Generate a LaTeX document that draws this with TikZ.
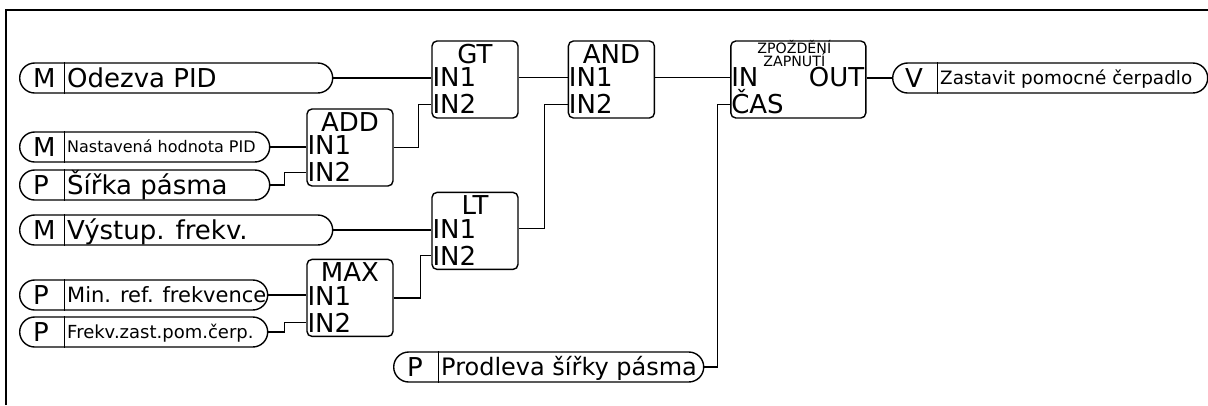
\documentclass[tikz,border=0pt]{standalone}
\usepackage{fontspec}
\setmainfont{DejaVu Sans}
\usetikzlibrary{positioning}

\begin{document}
\begin{tikzpicture}[
  % --- global style ---
  x=1pt, y=-1pt,
  every node/.style={inner sep=0pt, text depth=0pt},
  big/.style={font=\fontsize{26}{26}\selectfont, text height=19pt},
  pill/.style={draw, line width=1.4pt, rounded corners=15pt, minimum height=30pt},
  fbox/.style={draw, line width=1.4pt, rounded corners=5pt,
    minimum width=86pt, minimum height=77pt},
  sep/.style={line width=0.9pt},
  wire/.style={line width=1.5pt},
  frame/.style={line width=2pt},
]
\useasboundingbox (0,0) rectangle (1208,405);

% ====== Frame ======
\draw[frame] (6,405) -- (6,10) -- (1208,10);

% ====== Function blocks ======
\node[fbox] (gt) at (475,79.5) {};
\node[fbox, right=49pt of gt] (and) {};
\node[fbox, right=75pt of and, minimum width=135pt] (ton) {};
\node[fbox, below=73pt of gt] (lt) {};
\node[fbox] (add) at (350,147.5) {};
\node[fbox, below=72pt of add] (max) {};

% --- titles ---
\node[big] (gt-t)  at ([yshift=-13.5pt]gt.north)  {GT};
\node[big] (and-t) at ([yshift=-13.5pt]and.north) {AND};
\node[big] (add-t) at ([yshift=-13.5pt]add.north) {ADD};
\node[big] (lt-t)  at ([yshift=-13.5pt]lt.north)  {LT};
\node[big] (max-t) at ([yshift=-13.5pt]max.north) {MAX};
\node[font=\fontsize{14.2}{14.2}\selectfont, anchor=base]
  (ton-t1) at ([xshift=-4pt,yshift=-13pt]ton.north) {ZPOŽDĚNÍ};
\node[font=\fontsize{14.2}{14.2}\selectfont, anchor=base]
  (ton-t2) at ([xshift=-4pt,yshift=-26pt]ton.north) {ZAPNUTÍ};

% --- ports ---
\node[big, anchor=west] (gt-in1)  at ([xshift=1pt,yshift=-37pt]gt.north west)  {IN1};
\node[big, anchor=west] (gt-in2)  at ([xshift=1pt,yshift=-64pt]gt.north west)  {IN2};
\node[big, anchor=west] (and-in1) at ([xshift=1pt,yshift=-37pt]and.north west) {IN1};
\node[big, anchor=west] (and-in2) at ([xshift=1pt,yshift=-64pt]and.north west) {IN2};
\node[big, anchor=west] (add-in1) at ([xshift=1pt,yshift=-37pt]add.north west) {IN1};
\node[big, anchor=west] (add-in2) at ([xshift=1pt,yshift=-64pt]add.north west) {IN2};
\node[big, anchor=west] (lt-in1)  at ([xshift=1pt,yshift=-37pt]lt.north west)  {IN1};
\node[big, anchor=west] (lt-in2)  at ([xshift=1pt,yshift=-64pt]lt.north west)  {IN2};
\node[big, anchor=west] (max-in1) at ([xshift=1pt,yshift=-37pt]max.north west) {IN1};
\node[big, anchor=west] (max-in2) at ([xshift=1pt,yshift=-64pt]max.north west) {IN2};
\node[big, anchor=west] (ton-in)  at ([xshift=1pt,yshift=-37pt]ton.north west) {IN};
\node[big, anchor=west] (ton-cas) at ([xshift=1pt,yshift=-64pt]ton.north west) {ČAS};
\node[big, anchor=east] (ton-out) at ([xshift=-2pt,yshift=-37pt]ton.north east) {OUT};

% ====== Inputs (pills) ======
\node[pill, minimum width=313pt, anchor=west] (pid)   at (19,78)  {};
\node[pill, minimum width=250pt, anchor=west] (sp)    at (19,147) {};
\node[pill, minimum width=250pt, anchor=west] (bw)    at (19,185) {};
\node[pill, minimum width=313pt, anchor=west] (fout)  at (19,230) {};
\node[pill, minimum width=248pt, anchor=west] (minf)  at (19,295) {};
\node[pill, minimum width=248pt, anchor=west] (fstop) at (19,332) {};
\node[pill, minimum width=310pt, anchor=west] (dly)   at (393,367) {};
\node[pill, minimum width=315pt, anchor=west] (stop)  at (892,78) {};

% --- tags ---
\node[big, right=14pt of pid.west]   (pid-l)   {M};
\node[big, right=14pt of sp.west]    (sp-l)    {M};
\node[big, right=14pt of bw.west]    (bw-l)    {P};
\node[big, right=14pt of fout.west]  (fout-l)  {M};
\node[big, right=14pt of minf.west]  (minf-l)  {P};
\node[big, right=14pt of fstop.west] (fstop-l) {P};
\node[big, right=14pt of dly.west]   (dly-l)   {P};
\node[big, right=13pt of stop.west]  (stop-l)  {V};

% --- dividers ---
\draw[sep] ([xshift=45pt]pid.north west)   -- ([xshift=45pt]pid.south west);
\draw[sep] ([xshift=45pt]sp.north west)    -- ([xshift=45pt]sp.south west);
\draw[sep] ([xshift=45pt]bw.north west)    -- ([xshift=45pt]bw.south west);
\draw[sep] ([xshift=45pt]fout.north west)  -- ([xshift=45pt]fout.south west);
\draw[sep] ([xshift=45pt]minf.north west)  -- ([xshift=45pt]minf.south west);
\draw[sep] ([xshift=45pt]fstop.north west) -- ([xshift=45pt]fstop.south west);
\draw[sep] ([xshift=45pt]dly.north west)   -- ([xshift=45pt]dly.south west);
\draw[sep] ([xshift=45pt]stop.north west)  -- ([xshift=45pt]stop.south west);

% --- names ---
\node[big, right=48pt of pid.west] (pid-t) {Odezva PID};
\node[right=48pt of sp.west, font=\fontsize{16}{16}\selectfont, text height=11.7pt]
  (sp-t) {Nastavená hodnota PID};
\node[big, right=48pt of bw.west] (bw-t) {Šířka pásma};
\node[big, right=48pt of fout.west] (fout-t) {Výstup. frekv.};
\node[right=48pt of minf.west, font=\fontsize{21}{21}\selectfont, text height=15.3pt]
  (minf-t) {Min. ref. frekvence};
\node[right=48pt of fstop.west, font=\fontsize{18}{18}\selectfont, text height=13.1pt]
  (fstop-t) {Frekv.zast.pom.čerp.};
\node[right=48pt of dly.west, font=\fontsize{24}{24}\selectfont, text height=17.5pt]
  (dly-t) {Prodleva šířky pásma};
\node[right=48pt of stop.west, font=\fontsize{18.4}{18.4}\selectfont, text height=13.4pt]
  (stop-t) {Zastavit pomocné čerpadlo};

% ====== Wires ======
\draw[wire] (pid.east) -- (gt.west |- pid.east);
\draw[wire] (sp.east) -- (add.west |- sp.east);
\draw[wire] (bw.east) -- ++(14pt,0) |- (add.west |- add-in2.west);
\draw[wire] (add.east) -- ++(25pt,0) |- (gt.west |- gt-in2.west);
\draw[wire] (fout.east) -- (lt.west |- fout.east);
\draw[wire] (minf.east) -- (max.west |- minf.east);
\draw[wire] (fstop.east) -- ++(16pt,0) |- (max.west |- max-in2.west);
\draw[wire] (max.east) -- ++(27pt,0) |- (lt.west |- lt-in2.west);
\draw[wire] (gt.east |- gt-in1.west) -- (and.west |- gt-in1.west);
\draw[wire] (lt.east |- lt-in1.west) -- ++(26pt,0) |- (and.west |- and-in2.west);
\draw[wire] (and.east |- and-in1.west) -- (ton.west |- and-in1.west);
\draw[wire] (dly.east) -- ++(13pt,0) |- (ton.west |- ton-cas.west);
\draw[wire] (ton.east |- stop.west) -- (stop.west);

\end{tikzpicture}
\end{document}
